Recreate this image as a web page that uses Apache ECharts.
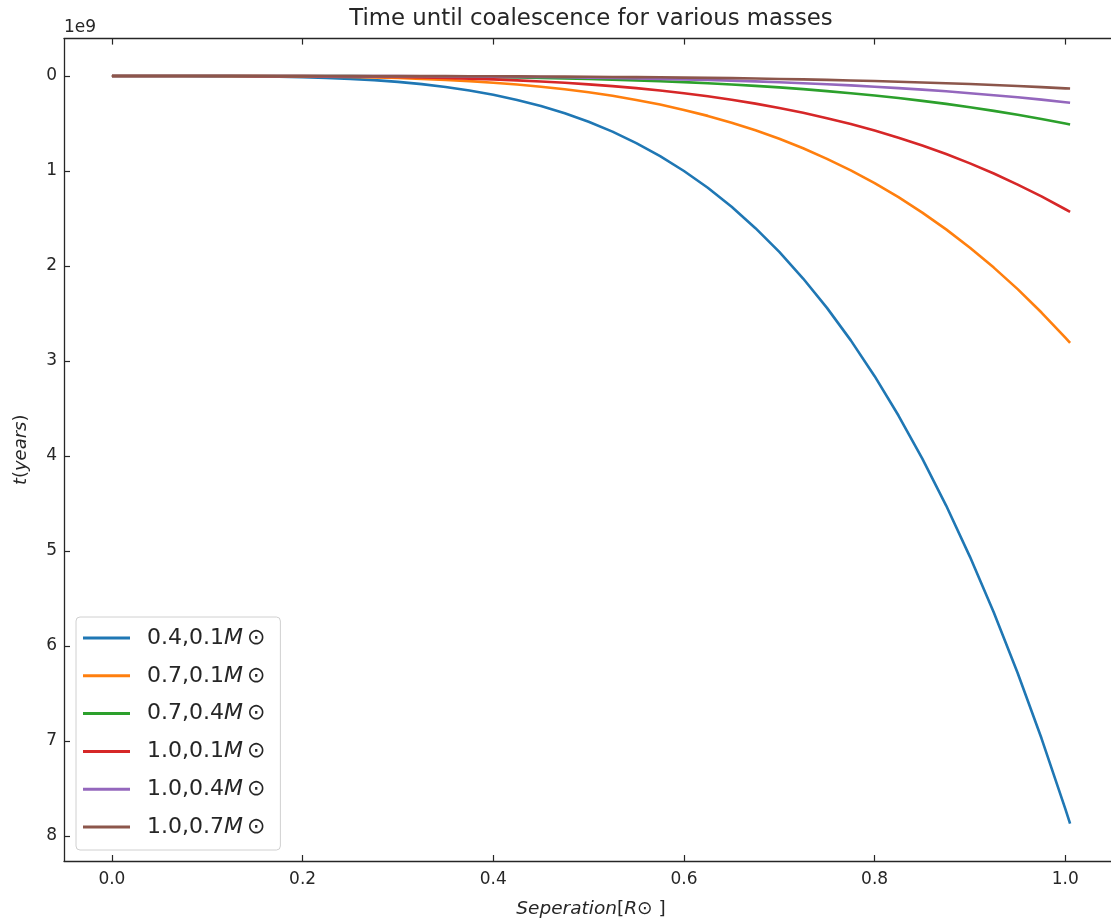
<!DOCTYPE html>
<html>
<head>
<meta charset="utf-8">
<script src="https://cdn.jsdelivr.net/npm/echarts@6/dist/echarts.min.js"></script>
<style>
html,body{margin:0;padding:0;background:#fff;}
#chart{width:1111px;height:922px;}
</style>
</head>
<body>
<div id="chart"></div>
<script>
// Separation (R_sun)
const separation = [0, 0.025, 0.05, 0.075, 0.1, 0.125, 0.15, 0.175, 0.2, 0.225, 0.25, 0.275, 0.3, 0.325, 0.35, 0.375, 0.4, 0.425, 0.45, 0.475, 0.5, 0.525, 0.55, 0.575, 0.6, 0.625, 0.65, 0.675, 0.7, 0.725, 0.75, 0.775, 0.8, 0.825, 0.85, 0.875, 0.9, 0.925, 0.95, 0.975, 1.0, 1.005];
// Time until coalescence (units of 1e9 years)
const t_04_01 = [0, 0.000, 0.000, 0.000, 0.001, 0.002, 0.004, 0.007, 0.012, 0.020, 0.030, 0.044, 0.062, 0.086, 0.116, 0.153, 0.198, 0.252, 0.316, 0.393, 0.482, 0.586, 0.706, 0.843, 1.000, 1.177, 1.377, 1.602, 1.852, 2.132, 2.441, 2.783, 3.160, 3.574, 4.027, 4.522, 5.062, 5.648, 6.284, 6.972, 7.715, 7.870];
const t_07_01 = [0, 0.000, 0.000, 0.000, 0.000, 0.001, 0.001, 0.003, 0.004, 0.007, 0.011, 0.016, 0.022, 0.031, 0.041, 0.054, 0.071, 0.090, 0.113, 0.140, 0.172, 0.209, 0.252, 0.301, 0.357, 0.420, 0.492, 0.572, 0.661, 0.761, 0.872, 0.994, 1.128, 1.276, 1.438, 1.615, 1.808, 2.017, 2.244, 2.490, 2.755, 2.810];
const t_07_04 = [0, 0.000, 0.000, 0.000, 0.000, 0.000, 0.000, 0.000, 0.001, 0.001, 0.002, 0.003, 0.004, 0.006, 0.008, 0.010, 0.013, 0.016, 0.021, 0.026, 0.031, 0.038, 0.046, 0.055, 0.065, 0.076, 0.089, 0.104, 0.120, 0.138, 0.159, 0.181, 0.205, 0.232, 0.262, 0.294, 0.329, 0.367, 0.408, 0.453, 0.501, 0.511];
const t_10_01 = [0, 0.000, 0.000, 0.000, 0.000, 0.000, 0.001, 0.001, 0.002, 0.004, 0.005, 0.008, 0.011, 0.016, 0.021, 0.028, 0.036, 0.046, 0.058, 0.071, 0.088, 0.107, 0.128, 0.153, 0.182, 0.214, 0.250, 0.291, 0.337, 0.388, 0.444, 0.506, 0.575, 0.650, 0.732, 0.822, 0.920, 1.027, 1.143, 1.268, 1.403, 1.431];
const t_10_04 = [0, 0.000, 0.000, 0.000, 0.000, 0.000, 0.000, 0.000, 0.000, 0.001, 0.001, 0.002, 0.002, 0.003, 0.004, 0.005, 0.007, 0.009, 0.011, 0.014, 0.017, 0.021, 0.025, 0.030, 0.036, 0.042, 0.049, 0.057, 0.066, 0.076, 0.087, 0.099, 0.113, 0.128, 0.144, 0.161, 0.181, 0.202, 0.224, 0.249, 0.276, 0.281];
const t_10_07 = [0, 0.000, 0.000, 0.000, 0.000, 0.000, 0.000, 0.000, 0.000, 0.000, 0.001, 0.001, 0.001, 0.001, 0.002, 0.003, 0.003, 0.004, 0.005, 0.007, 0.008, 0.010, 0.012, 0.014, 0.017, 0.020, 0.023, 0.027, 0.031, 0.036, 0.041, 0.047, 0.053, 0.060, 0.068, 0.076, 0.085, 0.095, 0.106, 0.117, 0.130, 0.132];

const seriesNames = ['0.4,0.1M⊙', '0.7,0.1M⊙', '0.7,0.4M⊙', '1.0,0.1M⊙', '1.0,0.4M⊙', '1.0,0.7M⊙'];
const seriesValues = [t_04_01, t_07_01, t_07_04, t_10_01, t_10_04, t_10_07];
const colors = ['#1f77b4', '#ff7f0e', '#2ca02c', '#d62728', '#9467bd', '#8c564b'];

const xTicks = [0, 0.2, 0.4, 0.6, 0.8, 1.0];
const yTicks = [0, 1, 2, 3, 4, 5, 6, 7, 8];

const FONT = 'DejaVu Sans';
const TXT = '#262626';
const AX = '#262626';

const chart = echarts.init(document.getElementById('chart'), null, {renderer: 'canvas'});

const series = seriesNames.map((name, i) => ({
  name: name,
  type: 'line',
  data: separation.map((x, j) => [x, seriesValues[i][j]]),
  showSymbol: false,
  smooth: false,
  lineStyle: {width: 2.6, color: colors[i], join: 'round', cap: 'butt'},
  itemStyle: {color: colors[i]},
  animation: false,
  z: 2 + i
}));

const option = {
  animation: false,
  backgroundColor: '#ffffff',
  grid: {left: 64, top: 38.6, width: 1054, height: 822.4, containLabel: false, outerBoundsMode: 'none'},
  xAxis: [
    {
      type: 'value', position: 'bottom',
      min: -0.05025, max: 1.05525,
      axisLine: {show: true, onZero: false, lineStyle: {color: AX, width: 1.3}},
      axisTick: {show: true, inside: true, length: 6, lineStyle: {color: AX, width: 1.2}, customValues: xTicks},
      axisLabel: {show: true, margin: 10, customValues: xTicks, formatter: v => v.toFixed(1),
        fontFamily: FONT, fontSize: 17, color: TXT},
      splitLine: {show: false},
      name: '{i|Seperation}{n|[}{i|R}{n|⊙ ]}',
      nameLocation: 'middle', nameGap: 39,
      nameTextStyle: {
        rich: {
          i: {fontFamily: FONT, fontStyle: 'italic', fontSize: 18.5, color: TXT},
          n: {fontFamily: FONT, fontSize: 18.5, color: TXT}
        }
      }
    },
    {
      type: 'value', position: 'top',
      min: -0.05025, max: 1.05525,
      axisLine: {show: true, onZero: false, lineStyle: {color: AX, width: 1.3}},
      axisTick: {show: true, inside: true, length: 6, lineStyle: {color: AX, width: 1.2}, customValues: xTicks},
      axisLabel: {show: false},
      splitLine: {show: false}
    }
  ],
  yAxis: {
    type: 'value', inverse: true,
    min: -0.3935, max: 8.2635,
    axisLine: {show: true, onZero: false, lineStyle: {color: AX, width: 1.3}},
    axisTick: {show: true, inside: true, length: 6, lineStyle: {color: AX, width: 1.2}, customValues: yTicks},
    axisLabel: {show: true, margin: 7, customValues: yTicks, formatter: v => String(Math.round(v)),
      fontFamily: FONT, fontSize: 17, color: TXT},
    splitLine: {show: false},
    name: '{i|t}{n|(}{i|years}{n|)}',
    nameLocation: 'middle', nameGap: 34, nameRotate: 90,
    nameTextStyle: {
      rich: {
        i: {fontFamily: FONT, fontStyle: 'italic', fontSize: 18, color: TXT},
        n: {fontFamily: FONT, fontSize: 18, color: TXT}
      }
    }
  },
  legend: {
    show: true,
    orient: 'vertical',
    left: 76, top: 617,
    data: seriesNames,
    icon: 'rect',
    itemWidth: 47, itemHeight: 3,
    itemGap: 15.8,
    padding: [10, 15, 12, 7],
    backgroundColor: 'rgba(255,255,255,0.8)',
    borderColor: '#d0d0d0', borderWidth: 1, borderRadius: 4,
    formatter: function (name) {
      const head = name.slice(0, name.length - 2);
      return '{n|' + head + '}{i|M}{s|⊙}';
    },
    textStyle: {
      padding: [0, 0, 0, 12],
      rich: {
        n: {fontFamily: FONT, fontSize: 22, color: TXT},
        i: {fontFamily: FONT, fontStyle: 'italic', fontSize: 22, color: TXT},
        s: {fontFamily: FONT, fontSize: 22, color: TXT, padding: [0, 0, 0, 4]}
      }
    }
  },
  graphic: [
    {
      type: 'text', x: 591, y: 19,
      style: {text: 'Time until coalescence for various masses', fontFamily: FONT, fontSize: 22.8, fill: TXT,
        align: 'center', verticalAlign: 'middle'}
    },
    {
      type: 'text', left: 64, top: 19,
      style: {text: '1e9', fontFamily: FONT, fontSize: 17, fill: TXT}
    }
  ],
  series: series
};

chart.setOption(option);
</script>
</body>
</html>
